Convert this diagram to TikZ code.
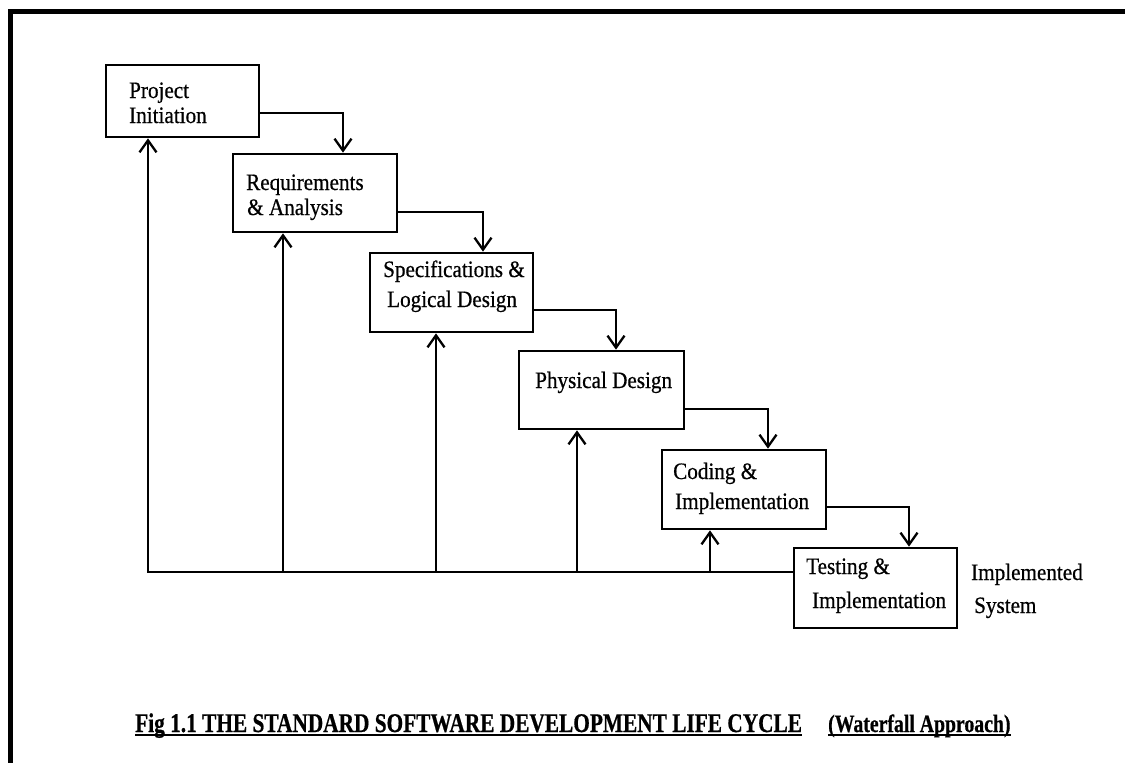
\documentclass[tikz,border=0pt]{standalone}
\usepackage{fontspec}
\setmainfont{Liberation Serif}[FakeStretch=0.9,FakeBold=0.6]
\newfontfamily\capfont{Liberation Serif}[FakeStretch=0.79,FakeBold=0.6]
\usetikzlibrary{arrows.meta}
\begin{document}
\begin{tikzpicture}[x=1pt,y=-1pt,
  line join=miter,
  stage/.style={draw, line width=2.7pt, rectangle, inner sep=0pt},
  lbl/.style={anchor=base west, inner sep=0pt, font=\fontsize{23.5}{27}\selectfont},
  flow/.style={line width=2.3pt, -{Straight Barb[length=12pt,width=17pt,line width=2.3pt]}},
  capstyle/.style={anchor=base west, inner sep=0pt},
  uline/.style={line width=2.2pt},
  ]
\useasboundingbox (0,0) rectangle (1125,763);
\fill[white] (0,0) rectangle (1125,763);
% outer frame (left and top edges)
\draw[line width=4.5pt] (10.5,775) -- (10.5,11.5) -- (1140,11.5);

% stage boxes
\node[stage, minimum width=153pt, minimum height=72pt] (pi)   at (182.5,101)   {};
\node[stage, minimum width=164pt, minimum height=78pt] (req)  at (315,193)     {};
\node[stage, minimum width=163pt, minimum height=79pt] (spec) at (451.5,292.5) {};
\node[stage, minimum width=165pt, minimum height=78pt] (pd)   at (601.5,390)   {};
\node[stage, minimum width=164pt, minimum height=79pt] (ci)   at (744,489.5)   {};
\node[stage, minimum width=163pt, minimum height=80pt] (ti)   at (875.5,588)   {};

% stage labels
\node[lbl] (pi1)   at (129,98)  {Project};
\node[lbl] (pi2)   at (129,123) {Initiation};
\node[lbl] (req1)  at (246,190) {Requirements};
\node[lbl] (req2)  at (247,215) {\& Analysis};
\node[lbl] (spec1) at (383,277) {Specifications \&};
\node[lbl] (spec2) at (387,307) {Logical Design};
\node[lbl] (pd1)   at (535,388) {Physical Design};
\node[lbl] (ci1)   at (673,479) {Coding \&};
\node[lbl] (ci2)   at (675,509) {Implementation};
\node[lbl] (ti1)   at (806,574) {Testing \&};
\node[lbl] (ti2)   at (812,608) {Implementation};
\node[lbl] (out1)  at (971,580) {Implemented};
\node[lbl] (out2)  at (974,613) {System};

% forward flow between stages
\draw[flow] ([yshift=-12pt]pi.east)   -| ([xshift=28pt]req.north);
\draw[flow] ([yshift=-19pt]req.east)  -| ([xshift=31.5pt]spec.north);
\draw[flow] ([yshift=-17.5pt]spec.east) -| ([xshift=14.5pt]pd.north);
\draw[flow] ([yshift=-19pt]pd.east)   -| ([xshift=24pt]ci.north);
\draw[flow] ([yshift=-17.5pt]ci.east) -| ([xshift=33.5pt]ti.north);

% feedback bus back to every earlier stage
\coordinate (bus) at ([yshift=16pt]ti.west);
\draw[flow] (bus) -| ([xshift=-34.5pt]pi.south);
\draw[flow] ([xshift=-32pt]req.south |- bus)    -- ([xshift=-32pt]req.south);
\draw[flow] ([xshift=-15.5pt]spec.south |- bus) -- ([xshift=-15.5pt]spec.south);
\draw[flow] ([xshift=-24.5pt]pd.south |- bus)   -- ([xshift=-24.5pt]pd.south);
\draw[flow] ([xshift=-34pt]ci.south |- bus)     -- ([xshift=-34pt]ci.south);

% caption
\node[capstyle, font=\capfont\bfseries\fontsize{27}{30}\selectfont] (cap) at (135,732)
  {Fig 1.1 THE STANDARD SOFTWARE DEVELOPMENT LIFE CYCLE};
\draw[uline] ([yshift=-3pt]cap.base west) -- ([yshift=-3pt]cap.base east);
\node[capstyle, font=\capfont\bfseries\fontsize{25}{28}\selectfont] (sub) at (828,732)
  {(Waterfall Approach)};
\draw[uline] ([yshift=-3pt]sub.base west) -- ([yshift=-3pt]sub.base east);
\end{tikzpicture}
\end{document}
